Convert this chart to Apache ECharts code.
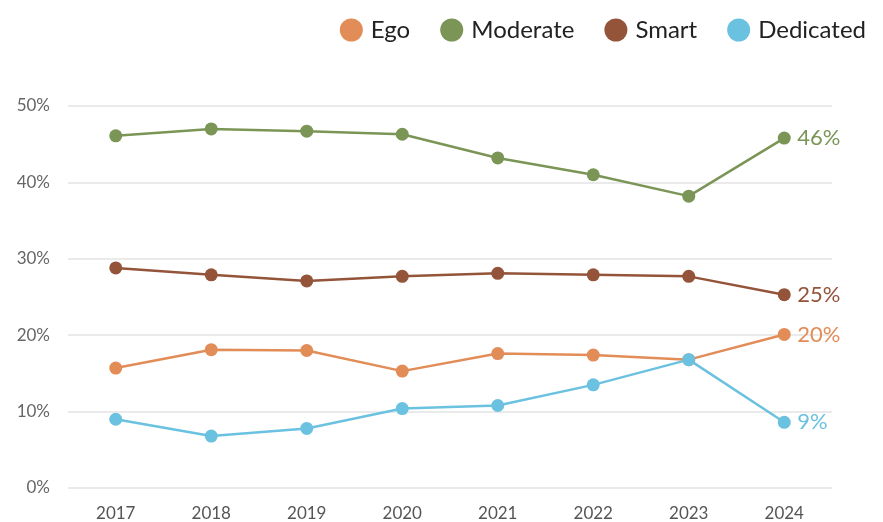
<!DOCTYPE html>
<html>
<head>
<meta charset="utf-8">
<script src="https://cdn.jsdelivr.net/npm/echarts@6/dist/echarts.min.js"></script>
<style>
  html, body { margin: 0; padding: 0; background: #fff; }
  #chart { width: 883px; height: 522px; }
</style>
</head>
<body>
<div id="chart"></div>
<script>
// 数据
var years = ['2017', '2018', '2019', '2020', '2021', '2022', '2023', '2024'];
var ego = [15.7, 18.1, 18.0, 15.3, 17.6, 17.4, 16.8, 20.1];
var moderate = [46.1, 47.0, 46.7, 46.3, 43.2, 41.0, 38.2, 45.8];
var smart = [28.8, 27.9, 27.1, 27.7, 28.1, 27.9, 27.7, 25.3];
var dedicated = [9.0, 6.8, 7.8, 10.4, 10.8, 13.5, 16.8, 8.6];
var yTicks = [0, 10, 20, 30, 40, 50];

var colors = { Ego: '#E28C58', Moderate: '#7B9556', Smart: '#94543A', Dedicated: '#6BC2E0' };
var font = 'Lato, "Open Sans", sans-serif';

function makeLine(name, data) {
  return {
    name: name,
    type: 'line',
    data: data,
    color: colors[name],
    symbol: 'circle',
    symbolSize: 13,
    lineStyle: { width: 2.5 },
    endLabel: {
      show: true,
      distance: 13,
      color: colors[name],
      fontSize: 22,
      fontFamily: font,
      formatter: function (p) { return Math.round(p.value) + '%'; }
    }
  };
}

var myChart = echarts.init(document.getElementById('chart'));
myChart.setOption({
  animation: false,
  legend: {
    right: 12,
    top: 13,
    icon: 'circle',
    itemWidth: 23,
    itemHeight: 23,
    itemGap: 30,
    textStyle: { fontSize: 24, color: '#222', fontFamily: font, padding: [0, 0, 0, 3] }
  },
  grid: { left: 68, right: 51, top: 106, bottom: 30 },
  xAxis: {
    type: 'category',
    data: years,
    axisLine: { show: false },
    axisTick: { show: false },
    axisLabel: { color: '#555', fontSize: 17, fontFamily: font, margin: 17 }
  },
  yAxis: {
    type: 'value',
    min: yTicks[0],
    max: yTicks[yTicks.length - 1],
    interval: 10,
    axisLabel: { color: '#666', fontSize: 17, fontFamily: font, margin: 18, formatter: '{value}%' },
    splitLine: { lineStyle: { color: '#e3e3e3', width: 1.5 } }
  },
  series: [
    makeLine('Ego', ego),
    makeLine('Moderate', moderate),
    makeLine('Smart', smart),
    makeLine('Dedicated', dedicated)
  ]
});
</script>
</body>
</html>
